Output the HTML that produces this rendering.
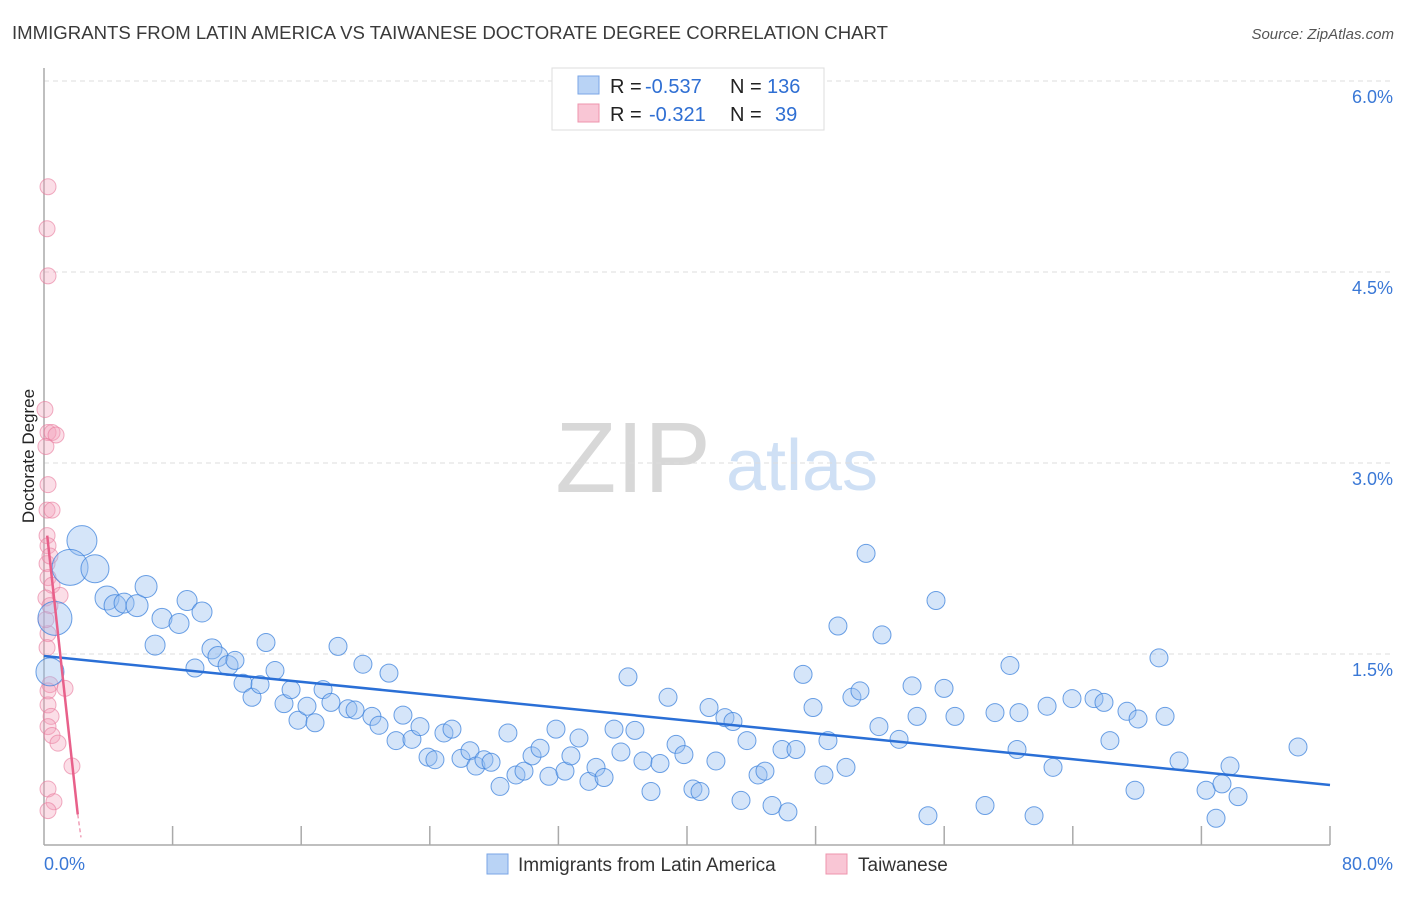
<!DOCTYPE html>
<html><head><meta charset="utf-8"><style>
body{margin:0;background:#fff;font-family:"Liberation Sans",sans-serif;}
svg text{font-family:"Liberation Sans",sans-serif;}
</style></head><body>
<svg id="chart" width="1406" height="892" viewBox="0 0 1406 892" xmlns="http://www.w3.org/2000/svg">
<text x="12" y="39" font-size="18" fill="#3a3a3a" textLength="876" lengthAdjust="spacingAndGlyphs">IMMIGRANTS FROM LATIN AMERICA VS TAIWANESE DOCTORATE DEGREE CORRELATION CHART</text>
<text x="1394" y="39" font-size="15" fill="#555" font-style="italic" text-anchor="end">Source: ZipAtlas.com</text>
<g>
<text x="633" y="492" font-size="100" fill="#d8d8d8" font-family="Liberation Serif, serif" text-anchor="middle">ZIP</text>
<text x="802" y="490" font-size="72" fill="#cfe0f5" text-anchor="middle">atlas</text>
</g>
<g id="grid"></g>
<g id="axes"></g>
<g id="pink"></g>
<g id="blue"></g>
<g id="lines"></g>
<text transform="translate(34,456) rotate(-90)" font-size="17" fill="#222" text-anchor="middle">Doctorate Degree</text>
<g>
<rect x="552" y="68" width="272" height="62" fill="#fff" stroke="#ddd"/>
<rect x="578" y="76" width="21" height="18" fill="#b9d3f5" stroke="#7aa6e6"/>
<rect x="578" y="104" width="21" height="18" fill="#f9c6d5" stroke="#ee94ad"/>
<text x="610" y="93" font-size="20" fill="#222">R =</text>
<text x="645" y="93" font-size="20" fill="#2f6fd3">-0.537</text>
<text x="730" y="93" font-size="20" fill="#222">N =</text>
<text x="767" y="93" font-size="20" fill="#2f6fd3">136</text>
<text x="610" y="121" font-size="20" fill="#222">R =</text>
<text x="649" y="121" font-size="20" fill="#2f6fd3">-0.321</text>
<text x="730" y="121" font-size="20" fill="#222">N =</text>
<text x="775" y="121" font-size="20" fill="#2f6fd3">39</text>
</g>
<g>
<rect x="487" y="854" width="21" height="20" fill="#b9d3f5" stroke="#7aa6e6"/>
<text x="518" y="871" font-size="19" fill="#333">Immigrants from Latin America</text>
<rect x="826" y="854" width="21" height="20" fill="#f9c6d5" stroke="#ee94ad"/>
<text x="858" y="871" font-size="19" fill="#333">Taiwanese</text>
</g>
</svg>
<script>
const xTicks=[0,8,16,24,32,40,48,56,64,72,80];
const yTicks=[1.5,3.0,4.5,6.0];
const blueX=[2.36,1.62,3.17,0.68,0.37,3.92,4.42,4.98,5.79,6.35,7.34,6.91,8.40,8.90,9.83,10.45,10.82,11.45,11.88,9.39,12.38,12.94,13.44,13.81,14.37,14.93,15.37,15.80,16.86,16.36,17.36,17.85,18.29,18.91,19.35,19.84,20.40,20.84,21.46,21.90,22.33,22.89,23.39,23.89,24.32,24.88,25.38,25.94,26.50,26.87,27.37,27.81,28.37,28.86,29.36,29.86,30.36,30.86,31.41,31.85,32.41,32.78,33.28,33.90,34.34,34.84,35.46,35.89,36.33,36.76,37.26,37.76,38.32,38.82,39.32,39.81,40.37,40.81,41.37,41.80,42.36,42.86,43.36,43.73,44.42,44.85,45.29,45.91,46.28,46.78,47.22,47.84,48.52,48.77,49.39,49.89,50.26,50.76,51.14,51.94,52.13,53.19,54.00,54.31,54.99,55.49,55.99,56.67,58.54,59.16,60.09,60.53,60.65,61.59,62.40,62.77,63.95,65.32,65.94,66.31,67.37,67.87,68.06,69.36,69.74,70.61,72.29,72.91,73.28,73.78,74.28,78.01];
const blueY=[2.39,2.18,2.17,1.78,1.36,1.94,1.88,1.90,1.88,2.03,1.78,1.57,1.74,1.92,1.83,1.54,1.48,1.41,1.45,1.39,1.27,1.16,1.26,1.59,1.37,1.11,1.22,0.98,0.96,1.09,1.22,1.12,1.56,1.07,1.06,1.42,1.01,0.94,1.35,0.82,1.02,0.83,0.93,0.69,0.67,0.88,0.91,0.68,0.74,0.62,0.67,0.65,0.46,0.88,0.55,0.58,0.70,0.76,0.54,0.91,0.58,0.70,0.84,0.50,0.61,0.53,0.91,0.73,1.32,0.90,0.66,0.42,0.64,1.16,0.79,0.71,0.44,0.42,1.08,0.66,1.00,0.97,0.35,0.82,0.55,0.58,0.31,0.75,0.26,0.75,1.34,1.08,0.55,0.82,1.72,0.61,1.16,1.21,2.29,0.93,1.65,0.83,1.25,1.01,0.23,1.92,1.23,1.01,0.31,1.04,1.41,0.75,1.04,0.23,1.09,0.61,1.15,1.15,1.12,0.82,1.05,0.43,0.99,1.47,1.01,0.66,0.43,0.21,0.48,0.62,0.38,0.77];
const blueSize=[15,18,14,17,14,12,11,10,11,11,10,10,10,10,10,10,10,10,9,9];
const pinkX=[0.25,0.19,0.25,0.06,0.25,0.50,0.75,0.12,0.25,0.19,0.50,0.19,0.25,0.19,0.25,0.50,0.12,0.37,1.00,0.25,0.19,0.37,0.25,1.31,0.25,0.44,0.25,0.50,0.87,1.74,0.25,0.62,0.25,0.37,0.12];
const pinkY=[5.17,4.84,4.47,3.42,3.24,3.24,3.22,3.13,2.83,2.63,2.63,2.43,2.35,2.21,2.10,2.04,1.94,1.88,1.96,1.66,1.55,1.26,1.21,1.23,1.10,1.01,0.93,0.86,0.80,0.62,0.44,0.34,0.27,2.27,1.77];
const blueTrend=[[0,1.484],[80,0.471]];
const pinkTrend=[[0.2,2.43],[2.1,0.24]];
const pinkTrendDash=[[2.1,0.24],[2.3,0.06]];

const X0=44,X1=1330,Y0=845,Ypx=127.33;
const sx=v=>X0+v*(X1-X0)/80;
const sy=v=>Y0-v*Ypx;
const NS="http://www.w3.org/2000/svg";
function mk(tag,parent,attrs){const e=document.createElementNS(NS,tag);for(const k in attrs)e.setAttribute(k,attrs[k]);parent.appendChild(e);return e;}
const grid=document.getElementById('grid'),axes=document.getElementById('axes');
yTicks.forEach(t=>{
  const l=mk('line',grid,{x1:X0,x2:1394,y1:sy(t),y2:sy(t),stroke:'#ddd','stroke-dasharray':'5,4'});
  
  
  const tx=mk('text',axes,{x:1393,y:sy(t)+22,'font-size':18,fill:'#3a78d6','text-anchor':'end'});
  tx.textContent=t.toFixed(1)+'%';
  
  
});
mk('line',axes,{x1:X0,x2:X0,y1:68,y2:Y0,stroke:'#aaa','stroke-width':1.5});
mk('line',axes,{x1:X0,x2:X1,y1:Y0,y2:Y0,stroke:'#aaa','stroke-width':1.5});
xTicks.forEach((t,i)=>{
  if(i>0){const l=mk('line',axes,{x1:sx(t),x2:sx(t),y1:826,y2:Y0,stroke:'#aaa','stroke-width':1.5});
  
  }
});
[[0,'start',44],[80,'end',1393]].forEach(([t,a,x])=>{
  const tx=mk('text',axes,{x:x,y:870,'font-size':18,fill:'#3a78d6','text-anchor':a});
  tx.textContent=t.toFixed(1)+'%';
  
  
});
const pg=document.getElementById('pink');
pinkX.forEach((x,i)=>{
  const c=mk('circle',pg,{cx:sx(x),cy:sy(pinkY[i]),r:8,fill:'rgba(244,160,185,0.35)',stroke:'rgba(232,120,155,0.6)','stroke-width':1});
  
  
});
const bg=document.getElementById('blue');
blueX.forEach((x,i)=>{
  const c=mk('circle',bg,{cx:sx(x),cy:sy(blueY[i]),r:blueSize[i]||9,fill:'rgba(150,190,240,0.4)',stroke:'rgba(60,130,220,0.75)','stroke-width':1});
  
  
});
const lg=document.getElementById('lines');
{const l=mk('line',lg,{x1:sx(blueTrend[0][0]),y1:sy(blueTrend[0][1]),x2:sx(blueTrend[1][0]),y2:sy(blueTrend[1][1]),stroke:'#2a6fd6','stroke-width':2.5});

}
{const l=mk('line',lg,{x1:sx(pinkTrend[0][0]),y1:sy(pinkTrend[0][1]),x2:sx(pinkTrend[1][0]),y2:sy(pinkTrend[1][1]),stroke:'#e8608a','stroke-width':2.5});

}
{const l=mk('line',lg,{x1:sx(pinkTrendDash[0][0]),y1:sy(pinkTrendDash[0][1]),x2:sx(pinkTrendDash[1][0]),y2:sy(pinkTrendDash[1][1]),stroke:'#f0a0b8','stroke-width':1.5,'stroke-dasharray':'4,3'});

}
</script>
</body></html>
